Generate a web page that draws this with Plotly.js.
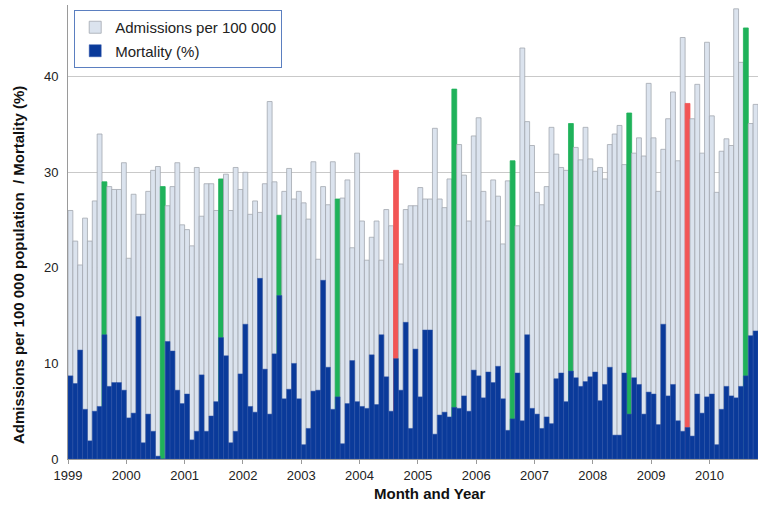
<!DOCTYPE html>
<html><head><meta charset="utf-8">
<script src="https://cdn.plot.ly/plotly-3.0.1.min.js"></script>
<style>html,body{margin:0;padding:0;background:#fff}#chart{width:758px;height:514px}</style>
</head><body><div id="chart"></div>
<script>
const startYear = 1999;
const yearTicks = [1999,2000,2001,2002,2003,2004,2005,2006,2007,2008,2009,2010];
const yearLabels = ['1999','2000','2001','2002','2003','2004','2005','2006','2007','2008','2009','2010'];
const xTitle = 'Month and Year';
const yTitle = 'Admissions per 100 000 population  / Mortality (%)';
// monthly series, Jan 1999 .. Oct 2010
const admissions = [
 26,22.8,20.3,25.2,22.8,27,34,29,28.5,28.2,28.2,31,
 21,27.7,25.6,25.6,28,30.2,30.6,28.5,26.5,28.5,31,24.5,
 24,22.3,30.5,25.4,28.8,28.8,26,29.3,29.8,26,30.5,28.2,
 30,25.6,27,25.8,28.8,37.4,29,25.5,28,30.4,27.2,28,
 26.8,25.1,31.1,20.9,28.5,26.6,31.1,27.2,27.3,29.2,22.1,32,
 24.9,20.8,23.2,24.9,20.8,26.1,24.4,30.2,20.4,26.1,26.5,26.5,
 28.4,27.2,27.2,34.6,27.2,26.3,29.3,38.7,32.9,29.7,24.9,33.8,
 35.7,28,24.9,29.2,27.5,22.5,29.1,31.2,24.4,43,35.3,32.8,
 27.9,26.6,28.5,34.7,31.9,30.5,30.2,35.1,32.6,31.3,34.7,31.4,
 30.1,30.5,29.3,32.9,34,34.9,30.8,36.2,32,33.6,31.7,39.3,
 33.6,28,32.4,35.6,38.4,31.2,44.1,37.2,35.6,39.2,32,43.6,
 35.9,27.9,32.2,33.5,32.8,47.1,41.5,45.1,35.1,37.1
];
const mortality = [
 8.7,7.9,11.4,5.2,1.9,5.0,5.5,13.0,7.6,8.0,8.0,7.2,
 4.3,4.8,14.9,1.7,4.7,2.9,0.3,0,12.3,11.3,7.2,5.8,
 6.8,2.0,2.9,8.8,2.9,4.5,6.0,12.7,10.8,1.7,2.9,8.9,
 14.1,5.5,4.9,18.9,9.4,4.7,11,17.1,6.3,7.3,10,6.3,
 1.5,3.2,7.1,7.2,18.7,9.6,5.2,6.5,1.6,5.8,10.3,6.0,
 5.5,5.3,10.9,5.7,13.0,8.6,5.0,10.5,7.2,14.3,3.2,11.5,
 6.5,13.5,13.5,2.6,4.6,4.9,4.4,5.4,5.3,6.6,5.0,9.3,
 8.7,6.4,9.1,8.0,9.7,6.3,3.0,4.2,9.0,4.0,13.0,5.3,
 4.7,3.2,4.4,3.7,8.4,9.0,6.0,9.2,8.5,7.6,8.1,8.6,
 9.1,6.1,7.8,9.6,2.5,2.5,9.0,4.7,8.5,7.8,4.7,7.0,
 6.8,3.6,14.1,6.6,7.8,4.0,2.9,3.3,2.4,6.8,4.8,6.5,
 6.8,1.5,5.2,7.6,6.6,6.4,7.6,8.7,12.9,13.4
];
const highlightMonth = 8; // August
const greenYears = [1999,2000,2001,2002,2003,2005,2006,2007,2008,2010];
const redYears = [2004,2009];

const LIGHT = '#dbe3ee', LIGHT_LINE = '#a3a8b0', BLUE = '#0a3a9a', GREEN = '#1fb25a', RED = '#f25656';

const n = admissions.length;
const xs = [], admColors = [], admLines = [];
for (let i = 0; i < n; i++) {
  const yr = startYear + Math.floor(i / 12), mo = (i % 12) + 1;
  xs.push(startYear + (i + 0.5) / 12);
  let c = LIGHT, l = LIGHT_LINE;
  if (mo === highlightMonth && greenYears.includes(yr)) { c = GREEN; l = GREEN; }
  if (mo === highlightMonth && redYears.includes(yr)) { c = RED; l = RED; }
  admColors.push(c); admLines.push(l);
}

const traces = [
  {type:'bar', name:'Admissions per 100 000', x:xs, y:admissions, width:1/12,
   marker:{color:admColors, line:{color:admLines, width:0.8}}, legendgroup:'a', hoverinfo:'skip'},
  {type:'bar', name:'Mortality (%)', x:xs, y:mortality, width:1/12,
   marker:{color:BLUE, line:{color:'#2f55aa', width:0.5}}, legendgroup:'b', hoverinfo:'skip'}
];

const layout = {
  width:758, height:514,
  margin:{l:68, r:0, t:5, b:55},
  paper_bgcolor:'#fff', plot_bgcolor:'#fff',
  barmode:'overlay', bargap:0,
  font:{family:'Liberation Sans, Arial, sans-serif', size:13, color:'#222'},
  xaxis:{range:[startYear, startYear + n/12], tickvals:yearTicks, ticktext:yearLabels,
    showgrid:false, zeroline:false, showline:true, linecolor:'#9a9a9a', ticks:'outside', ticklen:4, tickcolor:'#9a9a9a',
    tickfont:{size:13}, automargin:false},
  yaxis:{range:[0,47.5], tickvals:[0,10,20,30,40], showgrid:true, gridcolor:'#c9c9c9', gridwidth:1,
    zeroline:false, showline:true, linecolor:'#9a9a9a', tickfont:{size:13}, automargin:false, ticklabelstandoff:6},
  annotations:[
    {text:'<b>' + xTitle + '</b>', xref:'paper', yref:'paper', x:0.525, y:-0.075, xanchor:'center', yanchor:'middle',
     showarrow:false, font:{size:15, color:'#111'}},
    {text:'<b>' + yTitle + '</b>', xref:'paper', yref:'paper', x:-0.0725, y:0.427, xanchor:'center', yanchor:'middle',
     textangle:-90, showarrow:false, font:{size:15, color:'#111'}}
  ],
  legend:{x:0.009, y:0.989, xanchor:'left', yanchor:'top', bordercolor:'#5b7fc0', borderwidth:1, bgcolor:'#fff',
    font:{size:15, color:'#222'}, itemwidth:30, tracegroupgap:1, traceorder:'grouped'},
  showlegend:true
};

Plotly.newPlot('chart', traces, layout, {staticPlot:true, displayModeBar:false});
</script></body></html>
